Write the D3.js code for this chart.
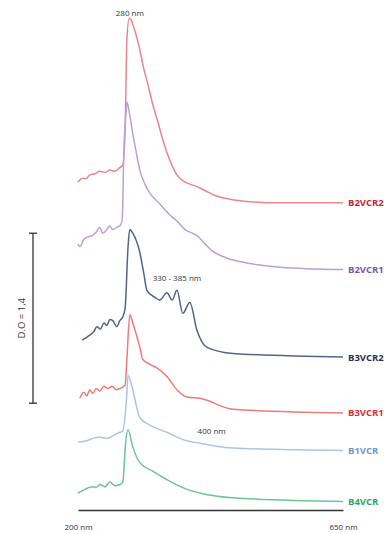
<!DOCTYPE html>
<html>
<head>
<meta charset="utf-8">
<script src="https://cdn.jsdelivr.net/npm/d3@7"></script>
<style>
  body { margin: 0; background: #fff; overflow: hidden; }
  svg { display: block; font-family: "Open Sans", "Noto Sans", sans-serif; }
</style>
</head>
<body>
<svg id="chart" width="384" height="534"></svg>
<script>
// series names, top to bottom
let names = ['B2VCR2', 'B2VCR1', 'B3VCR2', 'B3VCR1', 'B1VCR', 'B4VCR'];
// stacking offset of each trace (D.O units)
let offsets = [2.53, 1.98, 1.26, 0.80, 0.49, 0.07];

// wavelength (nm) and absorbance above the trace's offset
let nmB2VCR2 = [200, 207, 214, 220, 229, 237, 246, 254, 263, 271, 276, 280, 283, 287, 290, 295, 300, 305, 310, 319, 327, 336, 344, 356, 368, 382, 399, 416, 433, 458, 492, 543, 650];
let doB2VCR2 = [0.17, 0.20, 0.20, 0.23, 0.24, 0.26, 0.25, 0.27, 0.26, 0.29, 0.31, 0.60, 1.34, 1.52, 1.51, 1.44, 1.36, 1.26, 1.14, 0.97, 0.81, 0.66, 0.52, 0.35, 0.23, 0.17, 0.14, 0.10, 0.06, 0.03, 0.01, 0, 0];

let nmB2VCR1 = [200, 203, 210, 217, 224, 231, 237, 242, 249, 254, 259, 266, 271, 275, 278, 282, 283, 287, 292, 298, 305, 314, 322, 339, 356, 368, 382, 394, 402, 416, 429, 450, 492, 543, 650];
let doB2VCR1 = [0.21, 0.19, 0.25, 0.27, 0.28, 0.31, 0.35, 0.30, 0.33, 0.36, 0.33, 0.35, 0.36, 0.41, 0.99, 1.32, 1.38, 1.30, 1.15, 0.99, 0.82, 0.70, 0.63, 0.54, 0.45, 0.40, 0.33, 0.30, 0.28, 0.21, 0.15, 0.10, 0.05, 0.02, 0];

let nmB3VCR2 = [207, 214, 220, 227, 232, 238, 244, 249, 254, 259, 266, 271, 276, 280, 285, 288, 293, 305, 312, 317, 331, 339, 351, 360, 368, 378, 390, 402, 419, 463, 650];
let doB3VCR2 = [0.14, 0.16, 0.18, 0.21, 0.25, 0.23, 0.28, 0.26, 0.31, 0.30, 0.25, 0.30, 0.33, 0.40, 0.91, 1.05, 1.02, 0.86, 0.68, 0.55, 0.49, 0.47, 0.53, 0.47, 0.55, 0.36, 0.45, 0.22, 0.08, 0.03, 0];

let nmB3VCR1 = [203, 210, 215, 220, 225, 231, 237, 244, 251, 258, 265, 271, 280, 283, 288, 293, 305, 310, 322, 334, 351, 368, 385, 407, 463, 650];
let doB3VCR1 = [0.12, 0.17, 0.14, 0.19, 0.16, 0.20, 0.18, 0.22, 0.20, 0.22, 0.19, 0.20, 0.23, 0.44, 0.81, 0.74, 0.54, 0.44, 0.40, 0.37, 0.30, 0.19, 0.13, 0.12, 0.03, 0];

let nmB1VCR = [200, 215, 225, 237, 249, 259, 271, 276, 283, 285, 292, 305, 322, 351, 385, 407, 463, 650];
let doB1VCR = [0.07, 0.08, 0.10, 0.11, 0.10, 0.12, 0.15, 0.16, 0.47, 0.62, 0.52, 0.27, 0.21, 0.15, 0.08, 0.06, 0.02, 0];

let nmB4VCR = [200, 212, 222, 232, 237, 246, 254, 263, 271, 276, 281, 285, 293, 305, 327, 351, 385, 407, 463, 650];
let doB4VCR = [0.07, 0.10, 0.12, 0.12, 0.14, 0.12, 0.16, 0.13, 0.14, 0.16, 0.49, 0.59, 0.45, 0.32, 0.25, 0.18, 0.10, 0.07, 0.03, 0];

let xTicks = [200, 650];
let scaleBar = 1.4;
let scaleBarTop = 2.28;
let notes = [
    { text: '280 nm', nm: 288, v: 4.07 },
    { text: '330 - 385 nm', nm: 368, v: 1.89 },
    { text: '400 nm', nm: 427, v: 0.63 }
];

let lineColors = ['#e8868e', '#b8a0d8', '#55638a', '#f07a7a', '#a9c6e6', '#6cc596'];
let labelColors = ['#c0283a', '#7d56a8', '#26344f', '#e02c3c', '#6f9bc8', '#27a86a'];

let d3Svg = d3.select('#chart');

let x = d3.scaleLinear().domain([200, 650]).range([78, 343]);
let y = d3.scaleLinear().domain([0, 4.2]).range([510, 0.1]);

let seriesNm = [nmB2VCR2, nmB2VCR1, nmB3VCR2, nmB3VCR1, nmB1VCR, nmB4VCR];
let seriesDo = [doB2VCR2, doB2VCR1, doB3VCR2, doB3VCR1, doB1VCR, doB4VCR];

let data = names.map(function (name, i) {
    return {
        name: name,
        offset: offsets[i],
        points: seriesNm[i].map(function (nm, j) { return [nm, seriesDo[i][j] + offsets[i]]; })
    };
});

let line = d3.line()
    .x(function (d) { return x(d[0]); })
    .y(function (d) { return y(d[1]); })
    .curve(d3.curveMonotoneX);

d3Svg.append('g').selectAll('path')
    .data(data)
    .enter().append('path')
    .attr('d', function (d) { return line(d.points); })
    .attr('fill', 'none')
    .attr('stroke', function (d, i) { return lineColors[i]; })
    .attr('stroke-width', 1.5)
    .attr('stroke-linejoin', 'round');

// series labels at the right end
d3Svg.append('g').selectAll('text')
    .data(data)
    .enter().append('text')
    .attr('x', x(650) + 5)
    .attr('y', function (d) { return y(d.offset) + 3.5; })
    .attr('fill', function (d, i) { return labelColors[i]; })
    .attr('font-size', 9.5)
    .attr('font-weight', 'bold')
    .text(function (d) { return d.name; });

// x axis: plain baseline and two end labels
let xAxis = d3.axisBottom(x).tickValues(xTicks).tickSize(0).tickPadding(14)
    .tickFormat(function (d) { return d + ' nm'; });
let gx = d3Svg.append('g').attr('transform', 'translate(0,' + y(0) + ')').call(xAxis);
gx.select('.domain').attr('stroke', '#333').attr('stroke-width', 1.5);
gx.selectAll('text').attr('font-size', 8).attr('fill', '#333')
    .attr('font-family', '"Open Sans", sans-serif');

// peak annotations
d3Svg.append('g').selectAll('text')
    .data(notes)
    .enter().append('text')
    .attr('x', function (d) { return x(d.nm); })
    .attr('y', function (d) { return y(d.v); })
    .attr('text-anchor', 'middle')
    .attr('font-size', 8)
    .attr('fill', '#333')
    .text(function (d) { return d.text; });

// D.O scale bar
let barX = 33;
let barTop = y(scaleBarTop);
let barBottom = y(scaleBarTop - scaleBar);
let bar = d3Svg.append('g').attr('stroke', '#222').attr('stroke-width', 1.2);
bar.append('line').attr('x1', barX).attr('x2', barX).attr('y1', barTop).attr('y2', barBottom);
bar.append('line').attr('x1', barX - 4).attr('x2', barX + 4).attr('y1', barTop).attr('y2', barTop);
bar.append('line').attr('x1', barX - 4).attr('x2', barX + 4).attr('y1', barBottom).attr('y2', barBottom);

d3Svg.append('text')
    .attr('transform', 'translate(' + (barX - 8) + ',' + ((barTop + barBottom) / 2) + ') rotate(-90)')
    .attr('text-anchor', 'middle')
    .attr('font-size', 9.5)
    .attr('fill', '#333')
    .text('D.O = ' + String(scaleBar).replace('.', ','));
</script>
</body>
</html>
